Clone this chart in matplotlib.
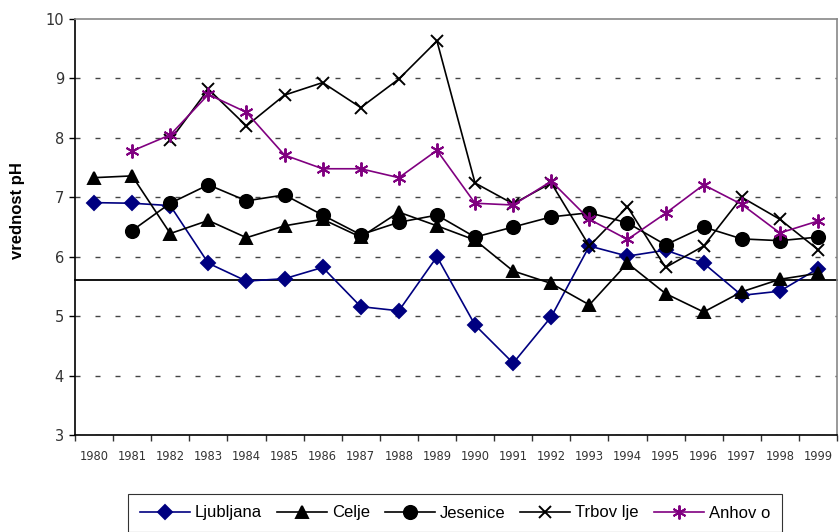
import numpy as np
import matplotlib
matplotlib.use("Agg")
import matplotlib.pyplot as plt

# pH values per town, 1980-1999 (None = no measurement)
years = [str(y) for y in range(1980, 2000)]
ljubljana = [6.91, 6.90, 6.86, 5.89, 5.59, 5.63, 5.82, 5.16, 5.09, 6.00,
             4.85, 4.21, 4.99, 6.18, 6.01, 6.11, 5.89, 5.35, 5.42, 5.80]
celje = [7.33, 7.36, 6.39, 6.61, 6.32, 6.52, 6.63, 6.33, 6.75, 6.52,
         6.28, 5.76, 5.55, 5.19, 5.89, 5.38, 5.07, 5.41, 5.62, 5.72]
jesenice = [None, 6.44, 6.90, 7.21, 6.94, 7.04, 6.70, 6.37, 6.58, 6.70,
            6.33, 6.50, 6.67, 6.74, 6.57, 6.20, 6.50, 6.30, 6.27, 6.33]
trbovlje = [None, None, 7.96, 8.82, 8.20, 8.72, 8.93, 8.51, 8.99, 9.63,
            7.24, 6.89, 7.24, 6.18, 6.84, 5.82, 6.18, 7.00, 6.63, 6.12]
anhovo = [None, 7.78, 8.05, 8.73, 8.43, 7.71, 7.48, 7.48, 7.33, 7.79,
          6.90, 6.87, 7.27, 6.63, 6.29, 6.73, 7.21, 6.88, 6.40, 6.60]
limit = 5.6


def arr(v):
    return np.array([np.nan if x is None else x for x in v], dtype=float)


fig = plt.figure(figsize=(8.4, 5.32), dpi=100)
ax = fig.add_axes([75 / 840, 1 - 435 / 532, 762 / 840, 416 / 532])

x = np.arange(len(years))
series = [
    ("Ljubljana", ljubljana, "#000080", "D", 7),
    ("Celje", celje, "black", "^", 9),
    ("Jesenice", jesenice, "black", "o", 9.5),
    ("Trbov lje", trbovlje, "black", "x", 9),
    ("Anhov o", anhovo, "#800080", (6, 2, 0), 10),
]
for name, vals, col, mk, ms in series:
    ax.plot(x, arr(vals), color=col, marker=mk, markersize=ms, lw=1.2,
            markeredgewidth=1.4, markerfacecolor=col, markeredgecolor=col,
            label=name, zorder=3)

ax.axhline(limit, color="black", lw=1.3, zorder=2, clip_on=False)

ax.set_ylim(3, 10)
ax.set_xlim(-0.5, len(years) - 0.5)
ax.set_yticks(range(3, 11))
ax.yaxis.grid(True, color="#444444", lw=1.0, linestyle=(0, (3.6, 10.8)))
ax.set_axisbelow(True)
# no dashed line on top of the frame
ax.yaxis.get_gridlines()[-1].set_visible(False)

ax.set_xticks(np.arange(-0.5, len(years), 1.0))
ax.set_xticklabels([])
ax.set_xticks(x, minor=True)
ax.set_xticklabels(years, minor=True, fontsize=8.3, color="#333333")
ax.tick_params(axis="x", which="minor", length=0, pad=11)
ax.tick_params(axis="x", which="major", length=4, width=1, color="#333333")
ax.tick_params(axis="y", length=4, width=1, labelsize=10.5,
               labelcolor="#333333", pad=4)

for s in ["top", "right"]:
    ax.spines[s].set_color("#888888")
    ax.spines[s].set_linewidth(1.2)
for s in ["left", "bottom"]:
    ax.spines[s].set_color("black")
    ax.spines[s].set_linewidth(1.2)

fig.text(18 / 840, 1 - 211 / 532, "vrednost pH", rotation=90, fontsize=12,
         fontweight="bold", family=["Liberation Sans", "DejaVu Sans"],
         ha="center", va="center")

leg = fig.legend(loc="center", bbox_to_anchor=(455 / 840, 1 - 513 / 532),
                 ncol=5, frameon=True, fancybox=False, edgecolor="black",
                 handlelength=3.0, handletextpad=0.3, columnspacing=0.9,
                 borderpad=0.7, prop={"family": "Liberation Sans", "size": 12})
leg.get_frame().set_linewidth(0.8)

fig.savefig("out.png", dpi=100)
